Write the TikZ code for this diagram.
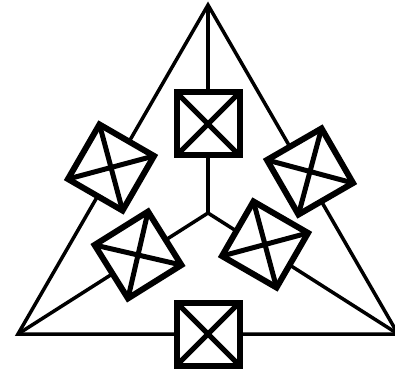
\documentclass[tikz,border=0pt]{standalone}
\begin{document}
\begin{tikzpicture}[x=1pt,y=1pt,
  edge/.style={line width=3.5pt},
  xbox/.style={draw, fill=white, line width=6pt, minimum size=63pt, inner sep=0pt, outer sep=0pt, shape=rectangle},
  xline/.style={line width=5pt}]
\useasboundingbox (0,0) rectangle (395,372);
\coordinate (T) at (208,367);
\coordinate (L) at (18,38);
\coordinate (R) at (398,38);
\coordinate (C) at (208,159);
\draw[edge] (T) -- (L) -- (R) -- cycle;
\draw[edge] (C) -- (T);
\draw[edge] (C) -- (L);
\draw[edge] (C) -- (R);
\node[xbox] (b1) at (208,248) {};
\node[xbox] (b2) at (208,38) {};
\node[xbox, rotate=-30] (b3) at (111,204.5) {};
\node[xbox, rotate=30] (b4) at (310,200.5) {};
\node[xbox, rotate=32] (b5) at (138,117) {};
\node[xbox, rotate=-30] (b6) at (265,127.5) {};
\foreach \b in {b1,b2,b3,b4,b5,b6}{
  \draw[xline] (\b.north west) -- (\b.south east);
  \draw[xline] (\b.north east) -- (\b.south west);
}
\end{tikzpicture}
\end{document}
